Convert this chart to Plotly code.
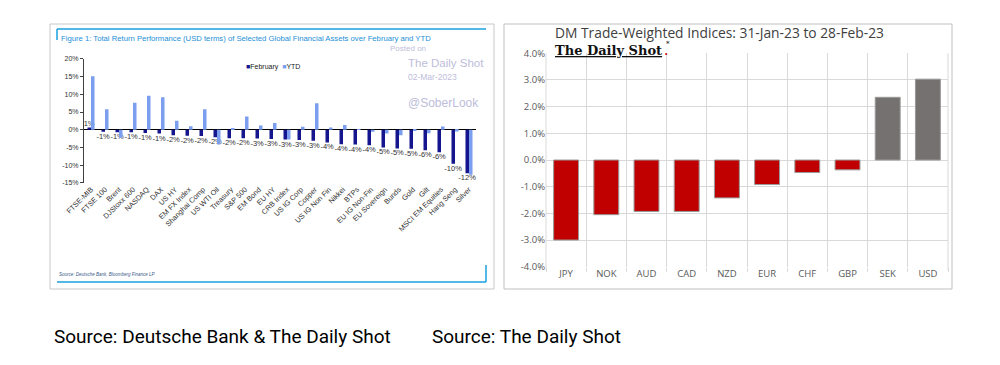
import plotly.graph_objects as go

# page is 1000x365; the browser's default 8px body margin is compensated for
OFF = 8
W, H = 1000 - OFF, 365 - OFF

# ---------------- Left chart data ----------------
assets = ["FTSE-MIB", "FTSE 100", "Brent", "DJStoxx 600", "NASDAQ", "DAX", "US HY",
          "EM FX Index", "Shanghai Comp", "US WTI Oil", "Treasury", "S&P 500", "EM Bond",
          "EU HY", "CRB Index", "US IG Corp", "Copper", "US IG Non Fin", "Nikkei", "BTPs",
          "EU IG Non-Fin", "EU Sovereign", "Bunds", "Gold", "Gilt", "MSCI EM Equities",
          "Hang Seng", "Silver"]
feb = [0.6, -0.6, -0.75, -0.75, -0.9, -1.1, -1.6, -1.7, -1.8, -2.1, -2.4, -2.4, -2.5,
       -2.6, -2.8, -2.9, -3.1, -3.6, -4.1, -4.2, -4.4, -5.0, -5.3, -5.4, -5.8, -6.4,
       -9.6, -12.3]
ytd = [15.1, 5.8, -2.3, 7.6, 9.6, 9.2, 2.5, 1.0, 5.8, -4.2, 0.5, 3.7, 1.2, 1.9, -2.8,
       0.8, 7.5, 0.6, 1.3, 0.2, -0.6, -1.1, -1.6, -0.1, -1.0, 0.9, -0.5, -12.7]
feb_labels = ["1%", "-1%", "-1%", "-1%", "-1%", "-1%", "-2%", "-2%", "-2%", "-2%", "-2%",
              "-2%", "-3%", "-3%", "-3%", "-3%", "-3%", "-4%", "-4%", "-4%", "-4%", "-5%",
              "-5%", "-5%", "-6%", "-6%", "-10%", "-12%"]
left_yticks = [20, 15, 10, 5, 0, -5, -10, -15]

# ---------------- Right chart data ----------------
currencies = ["JPY", "NOK", "AUD", "CAD", "NZD", "EUR", "CHF", "GBP", "SEK", "USD"]
tw_change = [-3.0, -2.05, -1.93, -1.93, -1.42, -0.92, -0.47, -0.37, 2.35, 3.03]
right_yticks = [4, 3, 2, 1, 0, -1, -2, -3, -4]


def px(x):
    return (x - OFF) / W


def py(y):
    return 1 - (y - OFF) / H


FEB_C = "#15158E"
YTD_C = "#7C9EEE"

fig = go.Figure()

fig.add_trace(go.Bar(
    x=assets, y=feb, name="February", marker_color=FEB_C,
    text=feb_labels, textposition="outside", constraintext="none", cliponaxis=False,
    textfont=dict(size=7.5, color="#333333", family="Liberation Sans, Arial"),
    xaxis="x", yaxis="y"))
fig.add_trace(go.Bar(
    x=assets, y=ytd, name="YTD", marker_color=YTD_C,
    xaxis="x", yaxis="y"))

bar_colors = ["#C00000" if v < 0 else "#767171" for v in tw_change]
fig.add_trace(go.Bar(
    x=currencies, y=tw_change, marker_color=bar_colors,
    marker_line=dict(color="#9A9A9A", width=1), width=0.62,
    xaxis="x2", yaxis="y2"))

fig.update_layout(
    template="none",
    width=W, height=H, margin=dict(l=0, r=0, t=0, b=0, autoexpand=False),
    paper_bgcolor="white", plot_bgcolor="rgba(0,0,0,0)",
    showlegend=False, barmode="group", bargap=0.5, bargroupgap=0,
    xaxis=dict(domain=[px(84), px(476)], anchor="y", type="category", automargin=False,
               tickangle=-45, showgrid=False, showline=False, ticks="",
               tickfont=dict(size=7.3, color="#333333", family="Liberation Sans, Arial")),
    yaxis=dict(domain=[py(182.8), py(58.9)], anchor="x", range=[-15, 20], automargin=False,
               tickvals=left_yticks, ticktext=[f"{v}%" for v in left_yticks],
               showgrid=False, showline=True, linecolor="#404040", linewidth=1,
               ticks="outside", ticklen=3, tickcolor="#404040",
               zeroline=True, zerolinecolor="#000000", zerolinewidth=1,
               tickfont=dict(size=7, color="#333333", family="Liberation Sans, Arial")),
    xaxis2=dict(domain=[px(546), px(948)], anchor="y2", type="category", automargin=False,
                tickson="boundaries", showgrid=True, gridcolor="#D9D9D9", gridwidth=1,
                ticks="outside", ticklen=4, tickcolor="#D9D9D9",
                showline=False, zeroline=False,
                tickfont=dict(size=9.5, color="#595959", family="Open Sans, DejaVu Sans")),
    yaxis2=dict(domain=[py(266.7), py(53.3)], anchor="x2", range=[-4, 4], automargin=False,
                tickvals=right_yticks, ticktext=[f"{v:.1f}%" for v in right_yticks],
                showgrid=True, gridcolor="#D9D9D9", gridwidth=1,
                zeroline=False, showline=False, ticks="",
                tickfont=dict(size=9.5, color="#595959", family="Open Sans, DejaVu Sans")),
)

shapes = []
# left panel frame
shapes.append(dict(type="rect", xref="paper", yref="paper", x0=px(50), x1=px(494),
                   y0=py(289), y1=py(24), line=dict(color="#C8C8C8", width=1)))
BLUE = "#1AA0E0"
for (x0, y0, x1, y1) in [(57, 29, 486, 29), (57, 29, 57, 40), (57, 282, 486, 282),
                         (486, 265, 486, 282)]:
    shapes.append(dict(type="line", xref="paper", yref="paper", x0=px(x0), x1=px(x1),
                       y0=py(y0), y1=py(y1), line=dict(color=BLUE, width=1.5)))
# right panel frame
shapes.append(dict(type="rect", xref="paper", yref="paper", x0=px(504), x1=px(952),
                   y0=py(289), y1=py(24), line=dict(color="#BFBFBF", width=1)))
# plot box edges (right chart)
for xx in (546, 948):
    shapes.append(dict(type="line", xref="paper", yref="paper", x0=px(xx), x1=px(xx),
                       y0=py(270), y1=py(53.3), line=dict(color="#D9D9D9", width=1)))
fig.update_layout(shapes=shapes)

ann = []


def text(x, y, s, size, color, family="Liberation Sans, Arial", xanchor="left",
         yanchor="middle"):
    ann.append(dict(x=px(x), y=py(y), xref="paper", yref="paper", text=s,
                    showarrow=False, xanchor=xanchor, yanchor=yanchor,
                    font=dict(size=size, color=color, family=family)))


text(59, 38.5, "Figure 1: Total Return Performance (USD terms) of Selected Global Financial "
     "Assets over February and YTD", 7.7, "#1C8FD8")
text(244, 67.5, f"<span style='color:{FEB_C}'>■</span>February  "
     f"<span style='color:{YTD_C}'>■</span>YTD", 7, "#222222")
WM = "#BDBDDA"
text(388, 48.5, "Posted on", 8, WM)
text(406, 62.5, "The Daily Shot", 11.5, WM)
text(406, 77.5, "02-Mar-2023", 8.5, WM)
text(406, 103, "@SoberLook", 12, WM)
text(57, 274, "<i>Source: Deutsche Bank, Bloomberg Finance LP</i>", 4.5, "#3A5A8A")

text(553, 33, "DM Trade-Weighted Indices: 31-Jan-23 to 28-Feb-23", 13.8, "#404040",
     family="Open Sans, DejaVu Sans")
text(553, 50, "<b><u>The Daily Shot</u></b>", 13, "#111111",
     family="DejaVu Serif, Liberation Serif")
text(664, 44.5, "*", 7, "#111111", family="DejaVu Serif")
text(663, 53.5, "•", 7, "#D00000")

text(52, 336, "Source: Deutsche Bank & The Daily Shot", 19, "#000000", family="Roboto")
text(430, 336, "Source: The Daily Shot", 19, "#000000", family="Roboto")

fig.update_layout(annotations=ann)

fig.write_html("out.html")
